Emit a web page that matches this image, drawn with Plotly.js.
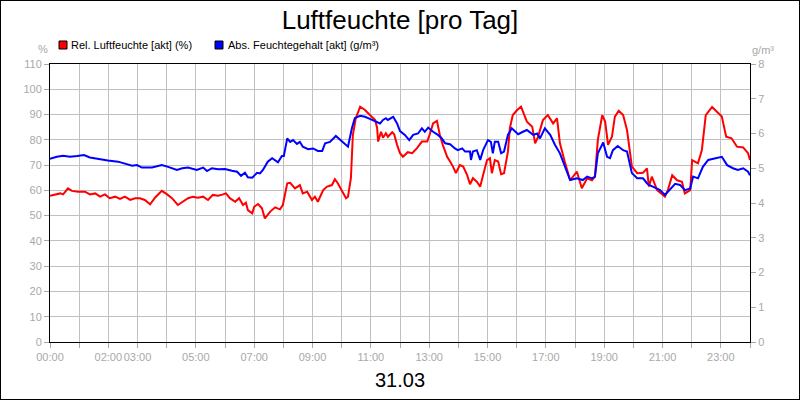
<!DOCTYPE html>
<html>
<head>
<meta charset="utf-8">
<script src="https://cdn.plot.ly/plotly-3.0.1.min.js"></script>
<style>
  body { margin: 0; background: #fff; }
  #chart { width: 800px; height: 400px; box-sizing: border-box; border: 1px solid #000; }
</style>
</head>
<body>
<div id="chart"></div>
<script>
// Minuten seit Mitternacht, 31.03
const relMinutes = [0,10,21,27,37,45,58,72,82,93,103,113,123,134,144,154,165,175,185,195,206,216,230,241,251,263,274,284,294,304,315,325,335,346,356,362,370,381,389,397,403,407,416,420,428,436,442,453,463,473,479,488,494,504,514,520,529,539,545,551,562,570,580,586,592,601,609,613,619,623,629,638,648,658,669,673,675,681,685,691,695,704,708,714,720,726,736,745,755,765,776,782,788,796,802,808,817,823,829,835,843,850,858,864,870,878,885,891,899,905,909,915,922,928,934,942,946,952,961,969,975,981,992,998,1004,1014,1024,1035,1043,1049,1059,1070,1084,1094,1105,1115,1121,1127,1136,1142,1148,1156,1162,1170,1179,1187,1197,1208,1220,1228,1232,1238,1249,1259,1265,1271,1280,1290,1300,1306,1317,1321,1333,1341,1349,1362,1372,1382,1391,1402,1413,1426,1436,1440];
const relHumidity = [57.9,58.4,58.8,58.4,60.8,59.8,59.5,59.5,58.4,58.8,57.5,58.4,56.9,57.5,56.6,57.5,56.2,56.9,56.9,56.2,54.5,57.1,59.8,58.4,56.9,54.2,55.5,56.9,57.5,57.1,57.5,56.2,58.2,57.9,58.4,58.8,56.9,55.5,56.9,54.2,55.1,52.2,50.9,53.5,54.6,52.9,48.9,51.6,53.3,52.5,54.2,62.8,63.0,60.8,62.1,58.8,59.5,56.2,57.5,55.5,60.1,61.5,62.1,64.4,62.8,59.5,56.9,57.5,64.8,81.9,88.5,93.1,91.8,89.8,87.8,84.6,79.3,83.2,80.8,82.6,81.2,83.0,82.2,78.0,74.7,73.3,75.1,74.7,76.7,79.3,79.3,82.6,86.5,87.5,81.9,78.0,73.3,71.4,69.4,66.8,70.0,69.4,66.1,62.4,64.8,63.4,61.5,66.1,72.0,72.7,66.8,72.0,71.4,66.4,66.8,75.3,84.6,89.8,91.8,93.1,90.0,87.2,85.2,78.6,81.2,87.8,89.8,86.5,88.5,78.6,71.3,64.0,67.4,60.8,64.8,64.0,65.4,80.0,89.8,87.2,78.0,81.2,89.2,91.5,89.8,83.9,69.4,66.8,67.0,68.7,61.5,65.4,60.1,58.6,57.5,60.1,66.0,64.0,63.4,58.8,60.1,72.0,70.7,76.0,89.8,93.0,91.0,89.2,81.2,80.6,77.3,77.0,74.7,72.0];

const absMinutes = [0,14,27,41,56,70,82,99,119,140,154,169,179,189,210,230,243,261,272,284,302,315,323,333,346,360,374,385,393,401,407,416,426,432,438,448,457,463,469,477,481,488,494,500,508,514,520,531,541,551,560,566,576,588,597,607,613,621,627,638,648,658,669,679,685,691,695,706,714,720,730,739,747,757,765,771,778,788,798,806,813,823,833,839,848,854,864,866,870,878,885,891,901,907,911,915,922,928,934,942,950,957,963,973,981,994,1002,1008,1018,1029,1039,1049,1059,1070,1084,1096,1105,1115,1121,1127,1138,1146,1152,1158,1168,1179,1187,1197,1208,1220,1228,1232,1240,1255,1265,1275,1286,1296,1306,1317,1323,1333,1343,1354,1368,1382,1393,1405,1415,1426,1436,1440];
const absHumidity = [5.27,5.33,5.36,5.33,5.35,5.38,5.31,5.26,5.22,5.19,5.14,5.07,5.09,5.02,5.02,5.09,5.04,4.95,5.0,5.02,4.95,5.02,4.92,5.0,4.97,4.98,4.93,4.9,4.78,4.87,4.74,4.73,4.87,4.85,4.95,5.19,5.29,5.24,5.17,5.35,5.35,5.86,5.76,5.81,5.70,5.76,5.62,5.55,5.57,5.50,5.50,5.72,5.76,5.93,5.81,5.69,5.62,6.15,6.44,6.51,6.48,6.42,6.34,6.29,6.39,6.44,6.39,6.48,6.29,6.07,5.96,5.81,5.96,6.0,6.15,6.05,6.17,6.05,5.96,5.86,5.72,5.69,5.57,5.52,5.57,5.48,5.48,5.24,5.48,5.52,5.24,5.52,5.81,5.76,5.43,5.76,5.76,5.43,5.48,5.96,6.15,6.05,5.98,6.05,6.1,5.96,6.0,5.86,6.15,5.96,5.67,5.43,5.04,4.66,4.71,4.66,4.76,4.71,4.76,5.43,5.74,5.33,5.29,5.52,5.64,5.52,5.48,4.86,4.71,4.71,4.57,4.52,4.47,4.37,4.23,4.37,4.55,4.52,4.37,4.42,4.76,4.71,5.04,5.24,5.29,5.33,5.09,5.0,4.95,5.0,4.9,4.8];

const hourTicks = [0,60,120,180,240,300,360,420,480,540,600,660,720,780,840,900,960,1020,1080,1140,1200,1260,1320,1380,1440];
const hourLabels = ['00:00','','02:00','03:00','','05:00','','07:00','','09:00','','11:00','','13:00','','15:00','','17:00','','19:00','','21:00','','23:00',''];

const seriesNames = ['Rel. Luftfeuchte [akt] (%)', 'Abs. Feuchtegehalt [akt] (g/m³)'];
const seriesColors = ['#ff0000', '#0000ff'];

const tickGray = '#a8a8a8';
const gridGray = '#c0c0c0';
const fontFam = 'Liberation Sans, Arial, sans-serif';

const data = [
    {
        x: absMinutes, y: absHumidity, yaxis: 'y2',
        type: 'scatter', mode: 'lines', name: seriesNames[1],
        line: { color: seriesColors[1], width: 2 }
    },
    {
        x: relMinutes, y: relHumidity,
        type: 'scatter', mode: 'lines', name: seriesNames[0],
        line: { color: seriesColors[0], width: 2 }
    }
];

// Legendenkästchen oben links (Pixel -> Paper-Koordinaten)
const px = x => (x - 50) / 700;
const py = y => (342 - y) / 278;

const layout = {
    width: 798, height: 398,
    margin: { l: 49, r: 49, t: 63, b: 57 },
    paper_bgcolor: '#fff', plot_bgcolor: '#fff',
    showlegend: false,
    font: { family: fontFam, size: 11, color: tickGray },
    title: {
        text: 'Luftfeuchte [pro Tag]',
        font: { family: fontFam, size: 26, color: '#000' },
        x: 0.5, xanchor: 'center', y: 0.953, yanchor: 'middle'
    },
    xaxis: {
        range: [0, 1440], tickmode: 'array', tickvals: hourTicks, ticktext: hourLabels,
        tickangle: 0,
        showgrid: true, gridcolor: gridGray, gridwidth: 1, zeroline: false,
        showline: true, linecolor: '#000', linewidth: 1, mirror: true,
        ticks: 'outside', ticklen: 5, tickcolor: tickGray,
        tickfont: { family: fontFam, size: 11, color: tickGray }
    },
    yaxis: {
        range: [0, 110], dtick: 10, tick0: 0,
        showgrid: true, gridcolor: gridGray, zeroline: false,
        showline: true, linecolor: '#000', linewidth: 1, mirror: true,
        ticks: 'outside', ticklen: 5, tickcolor: tickGray,
        tickfont: { family: fontFam, size: 11, color: tickGray }
    },
    yaxis2: {
        range: [0, 8], dtick: 1, tick0: 0, overlaying: 'y', side: 'right',
        showgrid: false, zeroline: false, showline: false,
        ticks: 'outside', ticklen: 5, tickcolor: tickGray,
        tickfont: { family: fontFam, size: 11, color: tickGray }
    },
    shapes: [
        { type: 'rect', xref: 'paper', yref: 'paper', x0: px(59), x1: px(67), y0: py(49), y1: py(41),
          fillcolor: seriesColors[0], line: { color: '#000', width: 1 } },
        { type: 'rect', xref: 'paper', yref: 'paper', x0: px(215), x1: px(223), y0: py(49), y1: py(41),
          fillcolor: seriesColors[1], line: { color: '#000', width: 1 } }
    ],
    annotations: [
        { text: seriesNames[0], xref: 'paper', yref: 'paper', x: px(69), y: py(45),
          xanchor: 'left', yanchor: 'middle', showarrow: false,
          font: { family: fontFam, size: 11, color: '#000' } },
        { text: seriesNames[1], xref: 'paper', yref: 'paper', x: px(226), y: py(45),
          xanchor: 'left', yanchor: 'middle', showarrow: false,
          font: { family: fontFam, size: 11, color: '#000' } },
        { text: '%', xref: 'paper', yref: 'paper', x: px(43), y: py(49),
          xanchor: 'center', yanchor: 'middle', showarrow: false,
          font: { family: fontFam, size: 11, color: tickGray } },
        { text: 'g/m³', xref: 'paper', yref: 'paper', x: px(763), y: py(50),
          xanchor: 'center', yanchor: 'middle', showarrow: false,
          font: { family: fontFam, size: 11, color: tickGray } },
        { text: '31.03', xref: 'paper', yref: 'paper', x: 0.5, y: py(380),
          xanchor: 'center', yanchor: 'middle', showarrow: false,
          font: { family: fontFam, size: 20, color: '#000' } }
    ]
};

Plotly.newPlot('chart', data, layout, { staticPlot: true, displayModeBar: false });
</script>
</body>
</html>
